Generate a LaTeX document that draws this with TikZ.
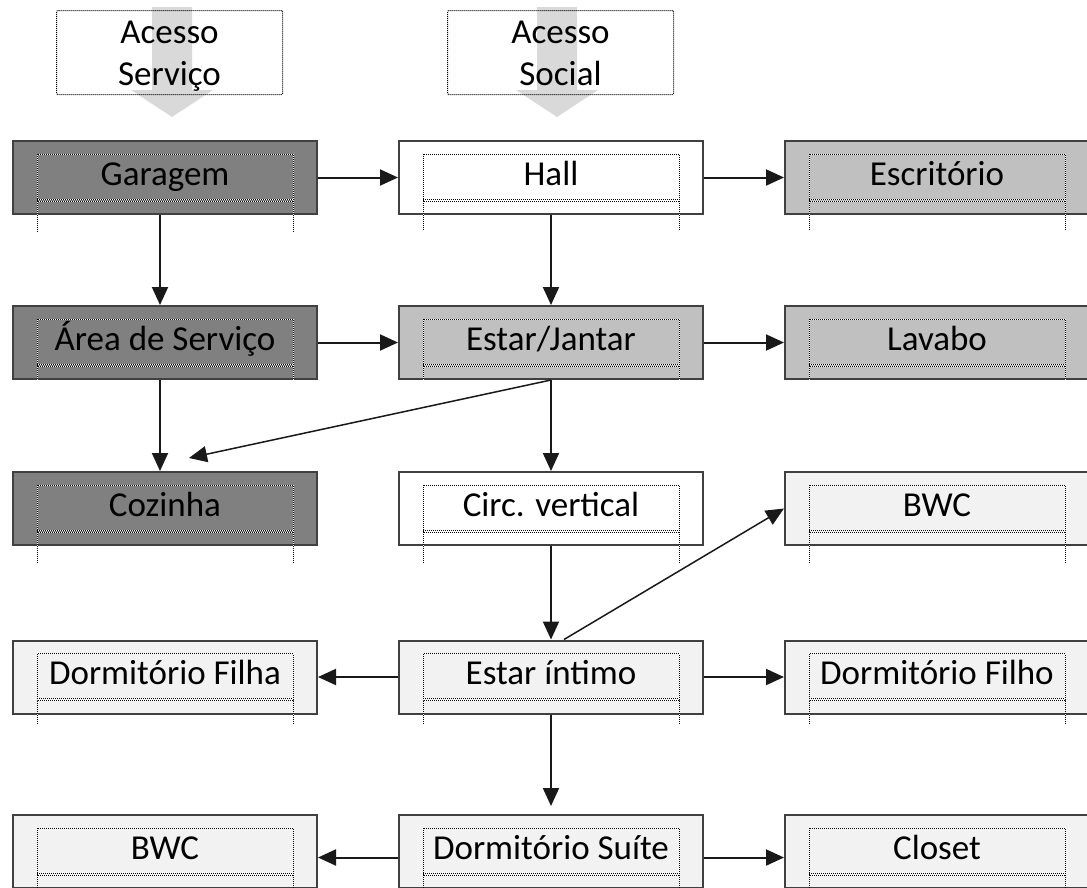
\documentclass[tikz,border=0pt]{standalone}
\usepackage{fontspec}
\setmainfont{Carlito}
\usetikzlibrary{arrows.meta}

\definecolor{servfill}{HTML}{808080}
\definecolor{socfill}{HTML}{C0C0C0}
\definecolor{intfill}{HTML}{F2F2F2}
\definecolor{accgray}{HTML}{D9D9D9}
\definecolor{boxline}{HTML}{404040}

\begin{document}
\begin{tikzpicture}[x=1pt,y=-1pt,>={Triangle[length=18pt,width=16pt]},
  room/.style={draw=boxline,line width=2pt,minimum width=304pt,minimum height=73pt,inner sep=0pt,text height=24pt,text depth=9pt,font=\fontsize{35pt}{42pt}\selectfont},
  service/.style={room,fill=servfill},
  social/.style={room,fill=socfill},
  intimate/.style={room,fill=intfill},
  passage/.style={room,fill=white},
  access/.style={draw=black,line width=1pt,dash pattern=on 1pt off 1pt,rounded corners=1pt,minimum width=226pt,minimum height=84pt,inner sep=0pt,text height=65pt,text depth=0pt,align=center,font=\fontsize{35pt}{42pt}\selectfont},
  dotline/.style={black,line width=0.8pt,dash pattern=on 1pt off 1pt,preaction={draw=white,solid,line width=0.8pt}},
  link/.style={->,line width=2pt,draw=black!90}]
\def\xa{165}
\def\xb{551}
\def\xc{937}
\def\ya{177.5}
\def\yb{342.5}
\def\yc{508.5}
\def\yd{677}
\def\ye{851.5}

\useasboundingbox (0,0) rectangle (1087,887);

% acessos
\foreach \ax in {172,557}
  \fill[accgray] (\ax-20,7) -- (\ax+20,7) -- (\ax+20,90) -- (\ax+41,90) -- (\ax,117) -- (\ax-41,90) -- (\ax-20,90) -- cycle;
\node[access] (accserv) at (169.5,52.5) {Acesso\\Serviço};
\node[access] (accsoc) at (560.5,52.5) {Acesso\\Social};

% ambientes
\node[service] (gar) at (\xa,\ya) {Garagem};
\node[passage] (hall) at (\xb,\ya) {Hall};
\node[social] (escr) at (\xc,\ya) {Escritório};
\node[service] (area) at (\xa,\yb) {Área de Serviço};
\node[social] (estjan) at (\xb,\yb) {Estar/Jantar};
\node[social] (lav) at (\xc,\yb) {Lavabo};
\node[service] (coz) at (\xa,\yc) {Cozinha};
\node[passage] (circ) at (\xb,\yc) {Circ. vertical};
\node[intimate] (bwcsoc) at (\xc,\yc) {BWC};
\node[intimate] (dfilha) at (\xa,\yd) {Dormitório Filha};
\node[intimate] (estint) at (\xb,\yd) {Estar íntimo};
\node[intimate] (dfilho) at (\xc,\yd) {Dormitório Filho};
\node[intimate] (bwcsuite) at (\xa,\ye) {BWC};
\node[intimate] (suite) at (\xb,\ye) {Dormitório Suíte};
\node[intimate] (closet) at (\xc,\ye) {Closet};

% caixas de texto pontilhadas
\foreach \n/\leg in {gar/17,hall/15,escr/15,area/0,estjan/0,lav/0,coz/17,circ/17,bwcsoc/17,dfilha/9,estint/9,dfilho/9,bwcsuite/9,suite/9,closet/9}{
  \draw[dotline] ([xshift=25pt,yshift=-14pt]\n.north west) rectangle ([xshift=-25pt,yshift=14pt]\n.south east);
  \draw[dotline] ([xshift=25pt,yshift=16pt]\n.south west) -- ([xshift=-25pt,yshift=16pt]\n.south east);
  \draw[dotline] ([xshift=25pt,yshift=14pt]\n.south west) -- ([xshift=25pt,yshift=-\leg pt]\n.south west);
  \draw[dotline] ([xshift=-25pt,yshift=14pt]\n.south east) -- ([xshift=-25pt,yshift=-\leg pt]\n.south east);
}

% fluxos
\draw[link] (gar.east) -- (hall.west);
\draw[link] (hall.east) -- (escr.west);
\draw[link] ([xshift=-5pt]gar.south) -- ([xshift=-5pt]area.north);
\draw[link] (hall.south) -- (estjan.north);
\draw[link] (area.east) -- (estjan.west);
\draw[link] (estjan.east) -- (lav.west);
\draw[link] ([xshift=-5pt]area.south) -- ([xshift=-5pt]coz.north);
\coordinate (cozin) at ([xshift=24pt,yshift=13pt]coz.north);
\draw[link,line width=1.5pt] (estjan.south) -- (cozin);
\draw[link] (estjan.south) -- (circ.north);
\draw[link] (circ.south) -- (estint.north);
\draw[link,line width=1.5pt] ([xshift=13pt]estint.north) -- (bwcsoc.west);
\draw[link] (estint.west) -- (dfilha.east);
\draw[link] (estint.east) -- (dfilho.west);
\draw[link,shorten >=8pt] (estint.south) -- (suite.north);
\draw[link] ([yshift=-6pt]suite.west) -- ([yshift=-6pt]bwcsuite.east);
\draw[link] ([yshift=-6pt]suite.east) -- ([yshift=-6pt]closet.west);
\end{tikzpicture}
\end{document}
